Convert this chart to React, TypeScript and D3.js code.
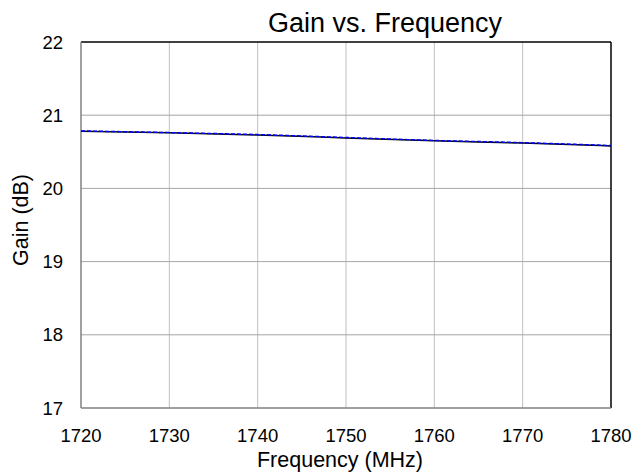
import React, { useEffect, useRef } from 'react';
import * as d3 from 'd3';

const W = 636;
const H = 474;
const margin = { top: 42, right: 25, bottom: 66, left: 81 };

// frequencies (MHz) and gain (dB)
const freqs = [1720, 1730, 1740, 1750, 1760, 1770, 1780];
const gainMeasured = [20.78, 20.76, 20.73, 20.69, 20.65, 20.62, 20.58];
const gainSim = [20.785, 20.762, 20.735, 20.695, 20.655, 20.625, 20.585];
const xTicks = [1720, 1730, 1740, 1750, 1760, 1770, 1780];
const yTicks = [17, 18, 19, 20, 21, 22];

const font = '"Liberation Sans", Arial, sans-serif';

export default function App() {
  const ref = useRef<SVGSVGElement>(null);

  useEffect(() => {
    const svg = d3.select(ref.current);
    svg.selectAll('*').remove();
    const gw = W - margin.left - margin.right;
    const gh = H - margin.top - margin.bottom;

    const x = d3.scaleLinear().domain([1720, 1780]).range([0, gw]);
    const y = d3.scaleLinear().domain([17, 22]).range([gh, 0]);

    svg.append('rect').attr('width', W).attr('height', H).attr('fill', '#fff');

    const g = svg.append('g').attr('transform', `translate(${margin.left},${margin.top})`);

    // grid
    g.selectAll('.vgrid')
      .data(xTicks.slice(1, -1))
      .join('line')
      .attr('x1', (d) => x(d))
      .attr('x2', (d) => x(d))
      .attr('y1', 0)
      .attr('y2', gh)
      .attr('stroke', '#c0c0c0')
      .attr('stroke-width', 1);
    g.selectAll('.hgrid')
      .data(yTicks.slice(1, -1))
      .join('line')
      .attr('x1', 0)
      .attr('x2', gw)
      .attr('y1', (d) => y(d))
      .attr('y2', (d) => y(d))
      .attr('stroke', '#a6a6a6')
      .attr('stroke-width', 1);

    // frame: top / right black, left / bottom gray
    g.append('line').attr('x1', 0).attr('x2', gw).attr('y1', 0).attr('y2', 0)
      .attr('stroke', '#000').attr('stroke-width', 1.5);
    g.append('line').attr('x1', gw).attr('x2', gw).attr('y1', 0).attr('y2', gh)
      .attr('stroke', '#000').attr('stroke-width', 1.5);
    g.append('line').attr('x1', 0).attr('x2', 0).attr('y1', 0).attr('y2', gh)
      .attr('stroke', '#808080').attr('stroke-width', 1.5);
    g.append('line').attr('x1', 0).attr('x2', gw).attr('y1', gh).attr('y2', gh)
      .attr('stroke', '#808080').attr('stroke-width', 1.5);

    const line = d3
      .line<number>()
      .x((_, i) => x(freqs[i]))
      .y((d) => y(d))
      .curve(d3.curveMonotoneX);

    g.append('path')
      .datum(gainMeasured)
      .attr('d', line)
      .attr('fill', 'none')
      .attr('stroke', '#000')
      .attr('stroke-width', 1.5);

    g.append('path')
      .datum(gainSim)
      .attr('d', line)
      .attr('fill', 'none')
      .attr('stroke', '#0000ff')
      .attr('stroke-width', 1.5)
      .attr('stroke-dasharray', '4,2');

    // tick labels
    g.selectAll('.xt')
      .data(xTicks)
      .join('text')
      .attr('x', (d) => x(d))
      .attr('y', gh + 34)
      .attr('text-anchor', 'middle')
      .attr('font-family', font)
      .attr('font-size', 18.5)
      .text((d) => d);
    g.selectAll('.yt')
      .data(yTicks)
      .join('text')
      .attr('x', -18)
      .attr('y', (d) => y(d) + 6.5)
      .attr('text-anchor', 'end')
      .attr('font-family', font)
      .attr('font-size', 18.5)
      .text((d) => d);

    // axis titles
    svg.append('text')
      .attr('x', 340)
      .attr('y', 467)
      .attr('text-anchor', 'middle')
      .attr('font-family', font)
      .attr('font-size', 21.5)
      .text('Frequency (MHz)');
    svg.append('text')
      .attr('transform', `translate(28,220) rotate(-90)`)
      .attr('text-anchor', 'middle')
      .attr('font-family', font)
      .attr('font-size', 21.5)
      .text('Gain (dB)');
    svg.append('text')
      .attr('x', 385)
      .attr('y', 32)
      .attr('text-anchor', 'middle')
      .attr('font-family', font)
      .attr('font-size', 27)
      .text('Gain vs. Frequency');
  }, []);

  return (
    <svg
      ref={ref}
      width={W}
      height={H}
      style={{ position: 'absolute', left: 0, top: 0, display: 'block' }}
    />
  );
}
